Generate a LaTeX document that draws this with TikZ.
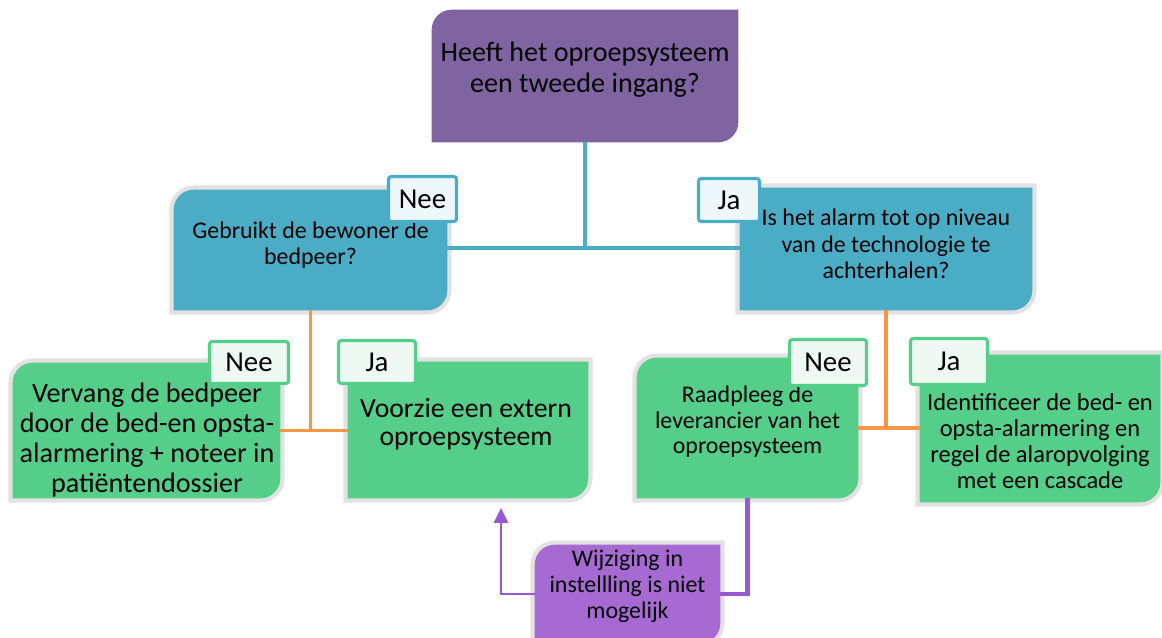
\documentclass[tikz,border=0pt]{standalone}
\usepackage{fontspec}
\setmainfont{Carlito}
\usepackage{tikz}
\usetikzlibrary{positioning, arrows.meta, backgrounds}
\definecolor{topviolet}{RGB}{128, 100, 162}
\definecolor{askblue}{RGB}{75, 172, 198}
\definecolor{stepgreen}{RGB}{84, 206, 136}
\definecolor{linkorange}{RGB}{247, 150, 70}
\definecolor{noteviolet}{RGB}{166, 106, 210}
\definecolor{lineviolet}{RGB}{152, 88, 210}
\definecolor{rimgray}{RGB}{226, 226, 226}
\definecolor{tagblue}{RGB}{238, 247, 250}
\definecolor{taggreen}{RGB}{238, 249, 243}

% box with the top left and bottom right corners rounded
\newcommand{\boxrad}{0.5cm}
\newcommand{\diagbox}[2]{%
  \path[#2] (#1.south west) -- ([yshift=-\boxrad]#1.north west)
    arc[start angle=180, end angle=90, radius=\boxrad] -- (#1.north east)
    -- ([yshift=\boxrad]#1.south east)
    arc[start angle=0, end angle=-90, radius=\boxrad] -- cycle;}

\begin{document}
\begin{tikzpicture}[x=0.025cm, y=-0.025cm,
    box/.style={inner sep=0pt},
    txt/.style={inner sep=0pt, align=center, text=black},
    rim/.style={fill=#1, preaction={draw=rimgray, line width=6pt}},
    tag/.style={draw=#1, line width=2.2pt, rounded corners=2pt, inner sep=0pt,
      font=\fontsize{20.5}{22}\selectfont},
    askline/.style={draw=askblue, line width=2.8pt},
    linkline/.style={draw=linkorange, line width=2.8pt},
    fixline/.style={draw=lineviolet, line width=3.4pt},
    fixarrow/.style={draw=lineviolet, line width=1.4pt, -{Triangle[length=10.5pt, width=10pt]}}]
  \useasboundingbox (0,0) rectangle (1162,637);

  % boxes
  \node[box, minimum width=7.65cm, minimum height=3.3cm] (top) at (585,76) {};
  \node[box, minimum width=6.825cm, minimum height=3cm] (qleft) at (310.5,250) {};
  \node[box, minimum width=7.3cm, minimum height=3.05cm] (qright) at (886,249) {};
  \node[box, minimum width=6.675cm, minimum height=3.375cm] (gleft1) at (146.5,430.5) {};
  \node[box, minimum width=6cm, minimum height=3.4cm] (gleft2) at (468,430) {};
  \node[box, minimum width=5.525cm, minimum height=3.5cm] (gright1) at (747.5,428) {};
  \node[box, minimum width=6cm, minimum height=3.675cm] (gright2) at (1040,428.5) {};
  \node[box, minimum width=4.625cm, minimum height=2.45cm] (fix) at (627.5,594) {};

  \begin{scope}[on background layer]
    \diagbox{top}{fill=topviolet}
    \foreach \n in {qleft, qright} {\diagbox{\n}{rim=askblue}}
    \foreach \n in {gleft1, gleft2, gright1, gright2} {\diagbox{\n}{rim=stepgreen}}
    \diagbox{fix}{rim=noteviolet}
  \end{scope}

  % texts
  \node[txt, font=\fontsize{20}{22}\selectfont] (top-t) at (585,70)
    {Heeft het oproepsysteem\\een tweede ingang?};
  \node[txt, font=\fontsize{17}{19}\selectfont] (qleft-t) at (310.5,245)
    {Gebruikt de bewoner de\\bedpeer?};
  \node[txt, font=\fontsize{17}{19}\selectfont] (qright-t) at (886,244)
    {Is het alarm tot op niveau\\van de technologie te\\achterhalen?};
  \node[txt, font=\fontsize{20}{21.3}\selectfont] (gleft1-t) at (147,440)
    {Vervang de bedpeer\\door de bed-en opsta-\\alarmering + noteer in\\patiëntendossier};
  \node[txt, font=\fontsize{19.7}{20.2}\selectfont] (gleft2-t) at (466,424)
    {Voorzie een extern\\oproepsysteem};
  \node[txt, font=\fontsize{17}{18.2}\selectfont] (gright1-t) at (747.5,422)
    {Raadpleeg de\\leverancier van het\\oproepsysteem};
  \node[txt, font=\fontsize{17.4}{18.6}\selectfont] (gright2-t) at (1040,441)
    {Identificeer de bed- en\\opsta-alarmering en\\regel de alaropvolging\\met een cascade};
  \node[txt, font=\fontsize{17}{18.5}\selectfont] (fix-t) at (627.5,586)
    {Wijziging in\\instellling is niet\\mogelijk};

  % answer tags
  \node[tag=askblue, fill=tagblue, minimum width=1.7cm, minimum height=1.125cm] (tnee1) at (422.5,199) {Nee};
  \node[tag=askblue, fill=tagblue, minimum width=1.525cm, minimum height=1.075cm] (tja1) at (729,200) {Ja};
  \node[tag=stepgreen, fill=taggreen, minimum width=1.975cm, minimum height=1.05cm] (tnee2) at (249,362.5) {Nee};
  \node[tag=stepgreen, fill=taggreen, minimum width=1.925cm, minimum height=1.075cm] (tja2) at (377,362) {Ja};
  \node[tag=stepgreen, fill=taggreen, minimum width=1.925cm, minimum height=1.15cm] (tnee3) at (828,362.5) {Nee};
  \node[tag=stepgreen, fill=taggreen, minimum width=1.925cm, minimum height=1.15cm] (tja3) at (949,361.5) {Ja};

  % connectors
  \coordinate (tj) at (585,248);
  \draw[askline] (top.south) -- (tj);
  \draw[askline] (qleft.east |- tj) -- (qright.west |- tj);
  \draw[linkline] (qleft.south) -- (qleft.south |- gleft1.east);
  \draw[linkline] (gleft1.east) -- (gleft2.west |- gleft1.east);
  \draw[linkline] (qright.south) -- (qright.south |- gright1.east);
  \draw[linkline] (gright1.east) -- (gright2.west |- gright1.east);
  \draw[fixline] (gright1.south) |- (fix.east);
  \coordinate (tip) at (501,508);
  \draw[fixarrow] (fix.west) -| (tip);
\end{tikzpicture}
\end{document}
